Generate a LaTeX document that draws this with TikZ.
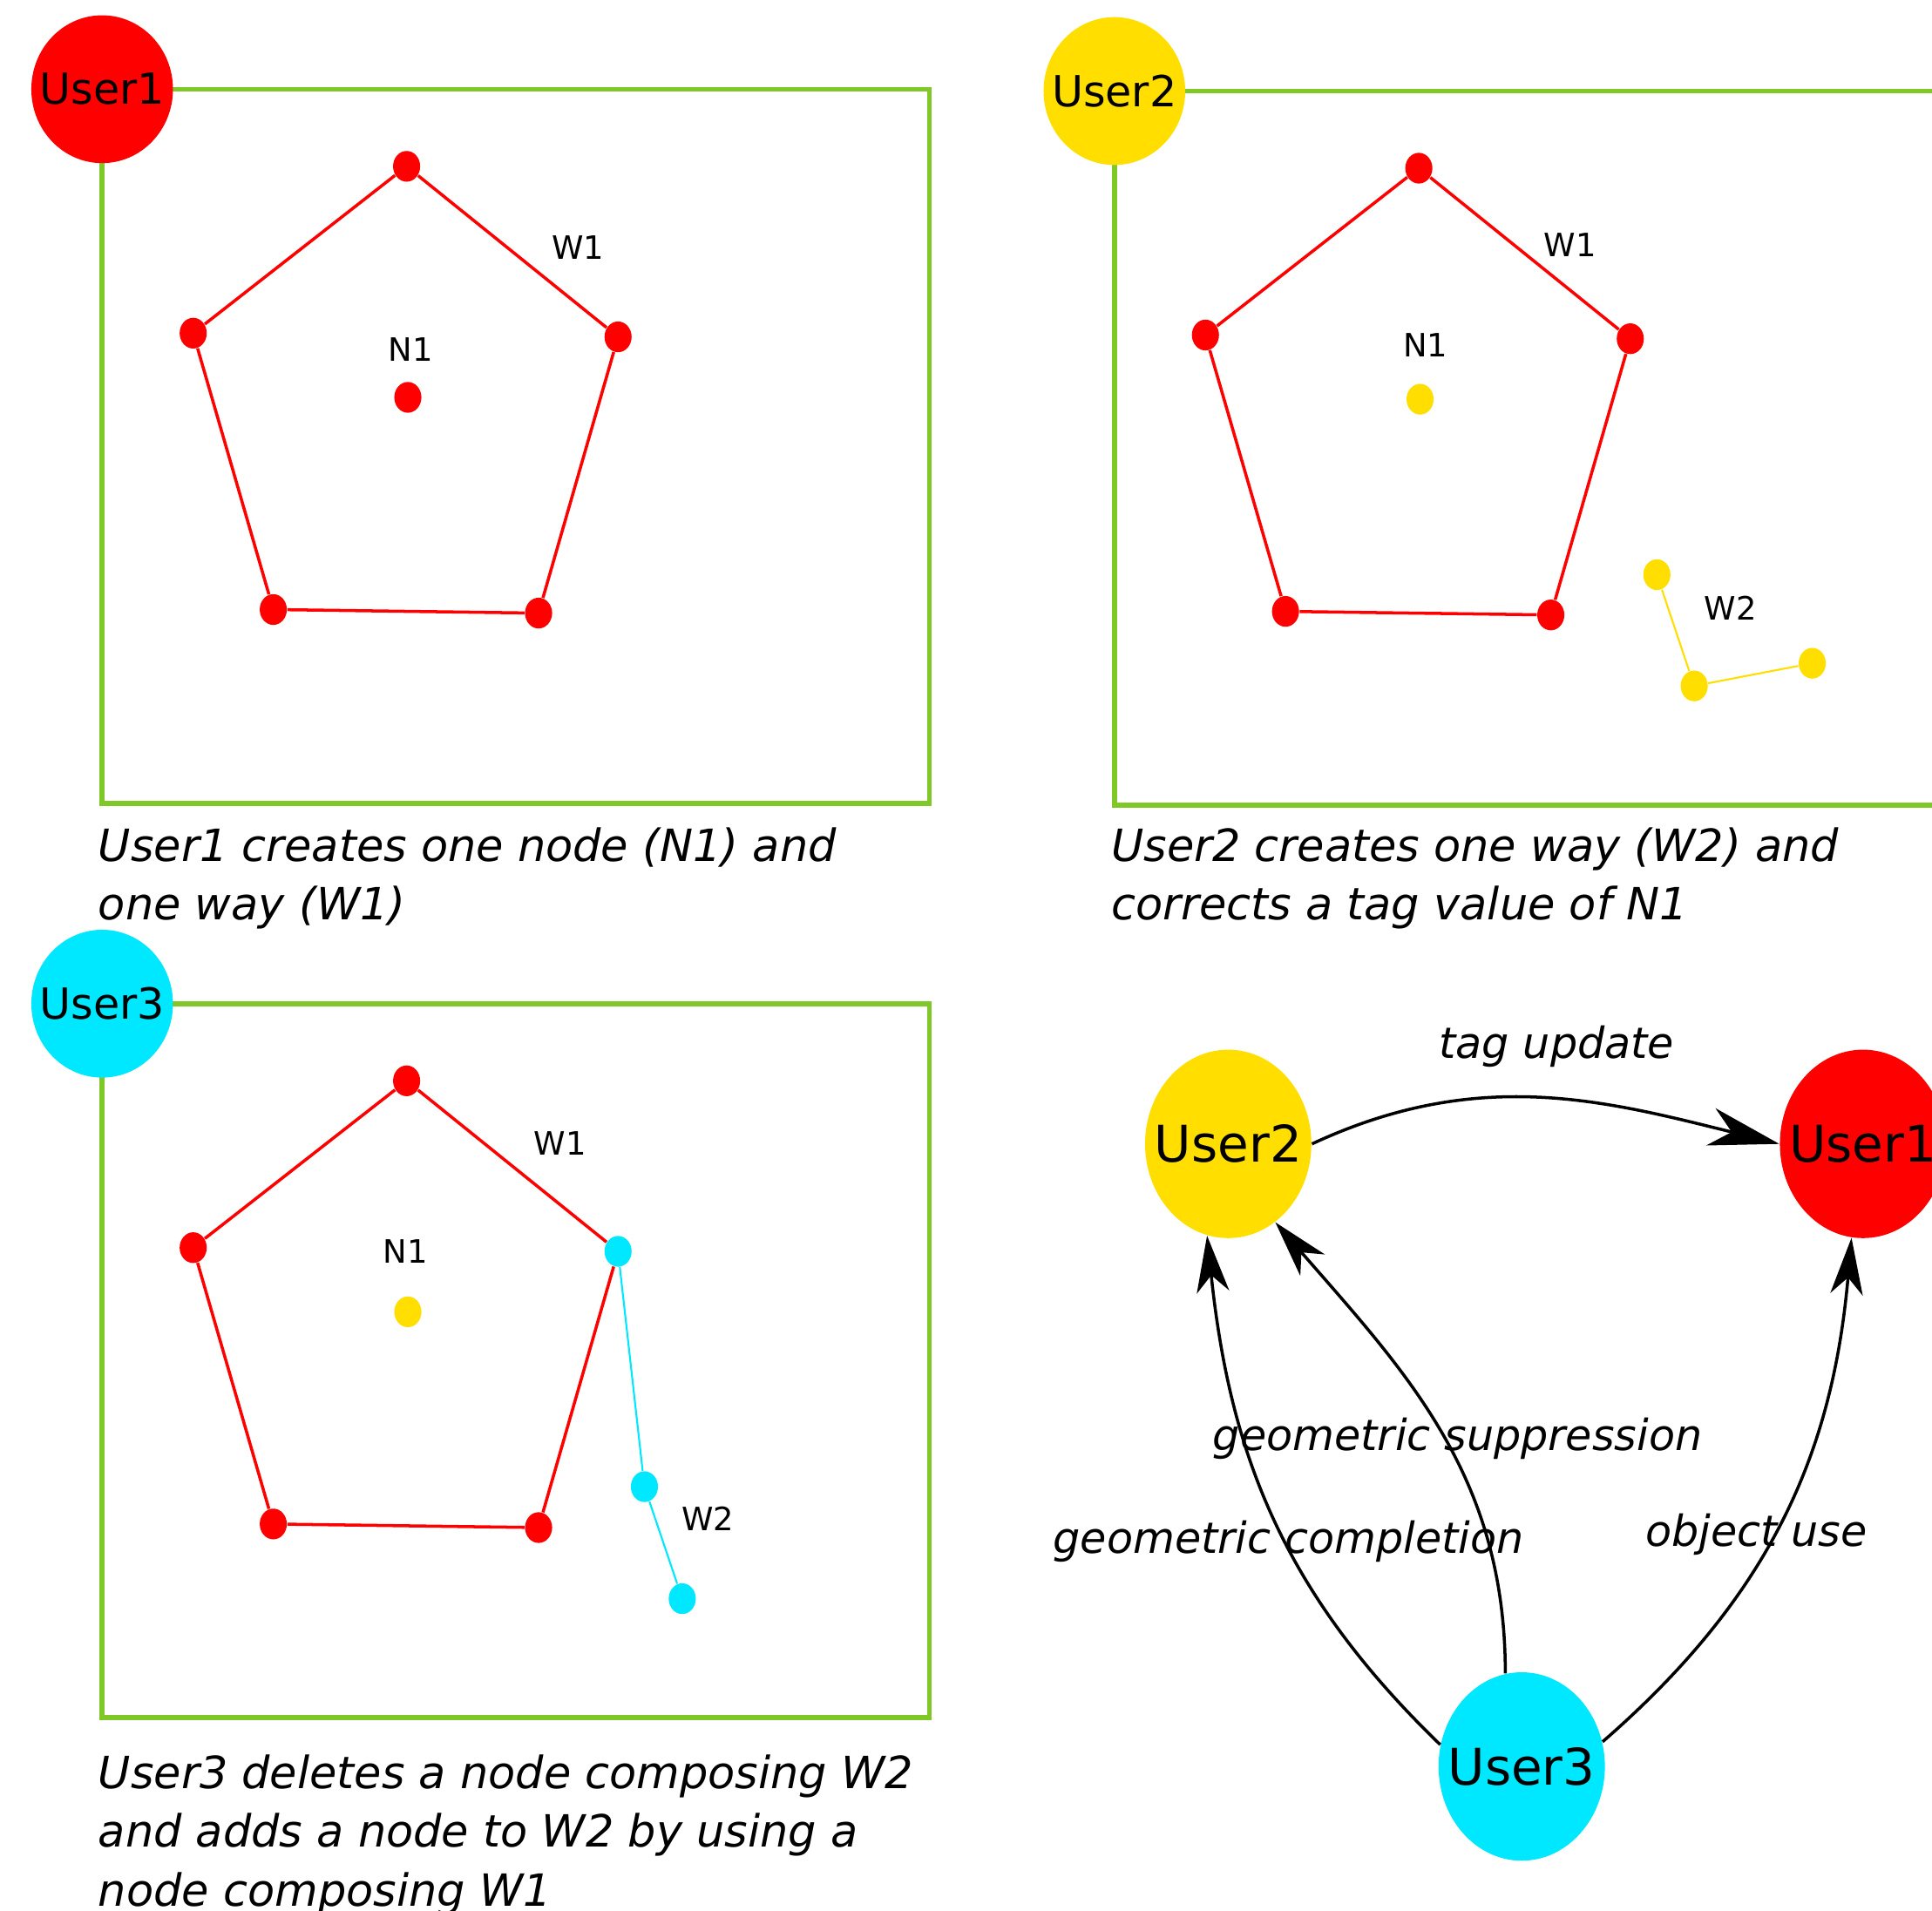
\documentclass[tikz,border=0pt]{standalone}
\usepackage{fontspec}
\setmainfont{DejaVu Sans}
\usepackage{xcolor}
\usepackage{tikz}
\usetikzlibrary{arrows.meta,shapes.geometric}

\definecolor{panelgreen}{RGB}{128,200,40}
\definecolor{userred}{RGB}{255,0,0}
\definecolor{useryellow}{RGB}{255,222,0}
\definecolor{usercyan}{RGB}{0,232,255}

\tikzset{
    usr/.style={ellipse,inner xsep=-5pt,inner ysep=0pt,minimum width=1.626cm,
                minimum height=1.697cm,font=\fontsize{14}{16}\selectfont},
    vertex/.style={ellipse,inner sep=0pt,minimum width=0.311cm,minimum height=0.353cm},
    panel/.style={draw=panelgreen,line width=1.6pt},
    way/.style={line width=1pt},
    newway/.style={line width=0.6pt},
    lbl/.style={font=\fontsize{10.5}{12}\selectfont},
    capt/.style={anchor=base west,align=left,inner sep=0pt,
                 font=\fontsize{14.5}{19.2}\selectfont\itshape}
}

\begin{document}
\begin{tikzpicture}[x=0.014139cm,y=-0.014139cm]
\useasboundingbox (0,0) rectangle (1568,1551);
\clip (0,0) rectangle (1568,1551);

\begin{scope}
    \coordinate (ac) at (82.9,72.4);
    \draw[panel] (ac) rectangle (754.2,652);
    \node[usr,fill=userred] (au) at (ac) {User1};
    \node[vertex,fill=userred] (a1) at (330,135) {};
    \node[vertex,fill=userred] (a2) at (501.6,273.4) {};
    \node[vertex,fill=userred] (a3) at (437.1,497.6) {};
    \node[vertex,fill=userred] (a4) at (221.8,494.7) {};
    \node[vertex,fill=userred] (a5) at (156.8,270.4) {};
    \node[vertex,fill=userred] (an) at (331,322.5) {};
    \draw[way,userred] (a1) -- (a2) -- (a3) -- (a4) -- (a5) -- (a1);
    \node[lbl] (aw1) at (468.9,201) {W1};
    \node[lbl] (an1) at (333.4,283.8) {N1};
    \node[capt] (acap) at (79.4,746.8) {User1 creates one node (N1) and\\one way (W1)};
\end{scope}

\begin{scope}[shift={(821.5,1.5)}]
    \coordinate (bc) at (82.9,72.4);
    \draw[panel] (bc) rectangle (900,652);
    \node[usr,fill=useryellow] (bu) at (bc) {User2};
    \node[vertex,fill=userred] (b1) at (330,135) {};
    \node[vertex,fill=userred] (b2) at (501.6,273.4) {};
    \node[vertex,fill=userred] (b3) at (437.1,497.6) {};
    \node[vertex,fill=userred] (b4) at (221.8,494.7) {};
    \node[vertex,fill=userred] (b5) at (156.8,270.4) {};
    \node[vertex,fill=useryellow] (bn) at (331,322.5) {};
    \draw[way,userred] (b1) -- (b2) -- (b3) -- (b4) -- (b5) -- (b1);
    \node[vertex,fill=useryellow] (bw1) at (523.2,464.9) {};
    \node[vertex,fill=useryellow] (bw2) at (553.5,555.2) {};
    \node[vertex,fill=useryellow] (bw3) at (649.3,536.8) {};
    \draw[newway,useryellow] (bw1) -- (bw2) -- (bw3);
    \node[lbl] (bl1) at (452.9,197) {W1};
    \node[lbl] (bn1) at (335.5,278.8) {N1};
    \node[lbl] (bl2) at (582.9,492.2) {W2};
    \node[capt] (bcap) at (79.9,745.3) {User2 creates one way (W2) and\\corrects a tag value of N1};
\end{scope}

\begin{scope}[shift={(0,742.2)}]
    \coordinate (cc) at (82.9,72.4);
    \draw[panel] (cc) rectangle (754.2,652);
    \node[usr,fill=usercyan] (cu) at (cc) {User3};
    \node[vertex,fill=userred] (c1) at (330,135) {};
    \node[vertex,fill=usercyan] (c2) at (501.6,273.4) {};
    \node[vertex,fill=userred] (c3) at (437.1,497.6) {};
    \node[vertex,fill=userred] (c4) at (221.8,494.7) {};
    \node[vertex,fill=userred] (c5) at (156.8,270.4) {};
    \node[vertex,fill=useryellow] (cn) at (331,322.5) {};
    \draw[way,userred] (c2) -- (c3) -- (c4) -- (c5) -- (c1) -- (c2);
    \node[vertex,fill=usercyan] (cw1) at (523,464.4) {};
    \node[vertex,fill=usercyan] (cw2) at (553.7,555.3) {};
    \draw[newway,usercyan] (c2) -- (cw1) -- (cw2);
    \node[lbl] (cl1) at (454.5,185.8) {W1};
    \node[lbl] (cn1) at (329,273.7) {N1};
    \node[lbl] (cl2) at (574.5,490.4) {W2};
    \node[capt] (ccap) at (79.4,804.6) {User3 deletes a node composing W2\\and adds a node to W2 by using a\\node composing W1};
\end{scope}

\begin{scope}[every node/.style={ellipse,inner xsep=-6pt,inner ysep=0pt,minimum width=1.909cm,
              minimum height=2.163cm,font=\fontsize{16.5}{19}\selectfont}]
    \node[fill=useryellow] (g2) at (996.8,928.4) {User2};
    \node[fill=userred] (g1) at (1512,928.4) {User1};
    \node[fill=usercyan] (g3) at (1235,1433.7) {User3};
\end{scope}
\begin{scope}[>={Stealth[length=18.5pt,width=10.6pt,inset=5.5pt]},
              every edge/.style={draw,line width=1pt},
              every node/.style={font=\fontsize{14}{16}\selectfont\itshape}]
    \path [-{Stealth[length=23pt,width=12.5pt,inset=7pt]}] (g2.east) edge[out=25,in=166] (g1.west);
    \path [->] (g3.165) edge[out=136,in=-84] (g2.257);
    \path [->] (g3.100) edge[out=90,in=-49] (g2.-59);
    \path [->] (g3.17) edge[out=41,in=-95] (g1.263);
    \node (tagup) at (1263.4,849.5) {tag update};
    \node (supp) at (1183,1167.5) {geometric suppression};
    \node (compl) at (1045.8,1251.3) {geometric completion};
    \node (objuse) at (1425.6,1245.4) {object use};
\end{scope}
\end{tikzpicture}
\end{document}
